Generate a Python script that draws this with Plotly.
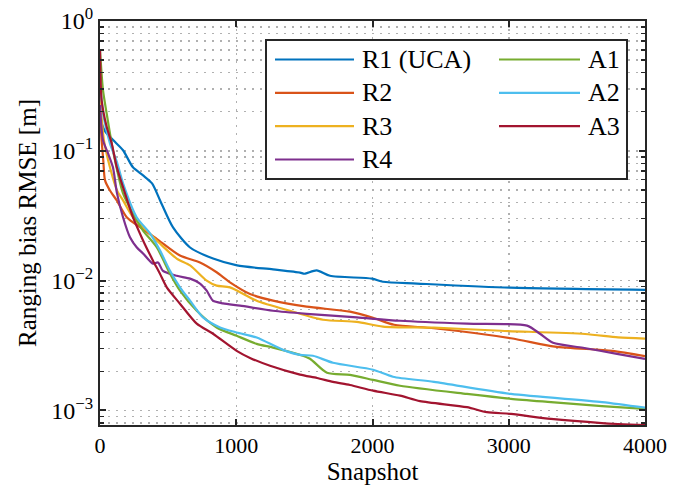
import plotly.graph_objects as go

# ---------------- data ----------------
names = ["R1 (UCA)", "R2", "R3", "R4", "A1", "A2", "A3"]
colors = ["#0072BD", "#D95319", "#EDB120", "#7E2F8E", "#77AC30", "#4DBEEE", "#A2142F"]

r1_x = [0, 15, 40, 98, 169, 242, 316, 382, 441, 536, 661, 830, 1006, 1270, 1468, 1500, 1590, 1688, 1996, 2077, 2327, 3009, 4000]
r1_y = [0.2, 0.16, 0.14, 0.1205, 0.101, 0.0746, 0.0647, 0.0561, 0.0415, 0.0257, 0.018, 0.0148, 0.0131, 0.0122, 0.01153, 0.0113, 0.0120, 0.0109, 0.01036, 0.0098, 0.0095, 0.00883, 0.0085]

r2_x = [0, 12, 24, 37, 73, 123, 196, 294, 416, 587, 734, 856, 954, 1101, 1270, 1517, 1835, 2004, 2158, 2451, 3016, 3339, 3758, 4000]
r2_y = [0.188, 0.12, 0.0845, 0.0592, 0.0495, 0.0415, 0.0308, 0.0258, 0.021, 0.0156, 0.0138, 0.0116, 0.0097, 0.00789, 0.00701, 0.0063, 0.00577, 0.00518, 0.00457, 0.0043, 0.0036, 0.0031, 0.00288, 0.00262]

r3_x = [0, 29, 73, 125, 169, 242, 343, 440, 563, 661, 783, 856, 954, 1150, 1394, 1637, 1884, 2077, 2451, 2943, 3560, 3802, 4000]
r3_y = [0.268, 0.1205, 0.0746, 0.0495, 0.0415, 0.0308, 0.0243, 0.0193, 0.0148, 0.0131, 0.0100, 0.00915, 0.00888, 0.00701, 0.00586, 0.0050, 0.00482, 0.00443, 0.00434, 0.00411, 0.00388, 0.00365, 0.00358]

r4_x = [0, 22, 59, 95, 125, 169, 220, 269, 316, 389, 426, 462, 563, 661, 734, 783, 829, 903, 1028, 1270, 1517, 1884, 2202, 2693, 3134, 3229, 3325, 3545, 3794, 4000]
r4_y = [0.225, 0.1205, 0.0957, 0.0746, 0.047, 0.0308, 0.0216, 0.0181, 0.0162, 0.0135, 0.0138, 0.0119, 0.0109, 0.01036, 0.0095, 0.00837, 0.00701, 0.00668, 0.00641, 0.00586, 0.00555, 0.00521, 0.00491, 0.00466, 0.0045, 0.0039, 0.00332, 0.00304, 0.00273, 0.0025]

a1_x = [0, 22, 51, 95, 169, 242, 316, 416, 514, 587, 710, 856, 1003, 1150, 1270, 1468, 1541, 1666, 1835, 2004, 2202, 2693, 3016, 3310, 3684, 4000]
a1_y = [0.597, 0.293, 0.188, 0.101, 0.047, 0.0329, 0.0243, 0.0181, 0.0113, 0.00837, 0.00586, 0.00436, 0.00376, 0.00326, 0.00305, 0.00268, 0.0025, 0.00195, 0.00188, 0.00172, 0.00155, 0.00134, 0.00123, 0.00116, 0.00108, 0.00103]

a2_x = [0, 29, 73, 125, 169, 269, 367, 440, 514, 587, 661, 756, 881, 1003, 1150, 1343, 1468, 1563, 1710, 2004, 2150, 2451, 3016, 3684, 4000]
a2_y = [0.32, 0.178, 0.114, 0.0815, 0.0561, 0.0308, 0.0231, 0.0171, 0.0119, 0.00888, 0.00701, 0.00521, 0.00436, 0.00399, 0.00365, 0.00293, 0.00268, 0.00264, 0.00233, 0.00206, 0.00182, 0.00166, 0.00134, 0.00116, 0.00105]

a3_x = [0, 12, 49, 86, 123, 169, 242, 316, 389, 440, 490, 587, 710, 829, 1003, 1101, 1248, 1468, 1593, 1710, 1835, 2004, 2202, 2349, 2693, 2840, 3016, 3310, 3684, 4000]
a3_y = [0.597, 0.245, 0.153, 0.114, 0.075, 0.0525, 0.0308, 0.0204, 0.01426, 0.0113, 0.00888, 0.00664, 0.00466, 0.0039, 0.00288, 0.00254, 0.00221, 0.00189, 0.00178, 0.00166, 0.00157, 0.00142, 0.0013, 0.00118, 0.00106, 0.00097, 0.00094, 0.00086, 0.0008, 0.00077]

xs = [r1_x, r2_x, r3_x, r4_x, a1_x, a2_x, a3_x]
ys = [r1_y, r2_y, r3_y, r4_y, a1_y, a2_y, a3_y]

x_ticks = [0, 1000, 2000, 3000, 4000]
y_tickvals = [1e-3, 1e-2, 1e-1, 1e0]
y_ticktext = ["10<sup>\u22123</sup>", "10<sup>\u22122</sup>", "10<sup>\u22121</sup>", "10<sup>0</sup>"]
y_minor = [m * 10.0 ** e for e in (-4, -3, -2, -1) for m in range(2, 10)]

FONT = "Liberation Serif"
AXC = "#262626"
GRIDC = "#b0b0b0"

fig = go.Figure()
for x, y, n, c in zip(xs, ys, names, colors):
    fig.add_trace(go.Scatter(x=x, y=y, mode="lines", name=n,
                             line=dict(color=c, width=2.2, shape="spline", smoothing=0.7),
                             showlegend=False, hoverinfo="skip"))

# plot box at x 100..645, y 21..425 of the 685x489 page (body margin removed below)
fig.update_layout(
    width=685, height=489,
    margin=dict(l=100, r=40, t=21, b=64, autoexpand=False),
    paper_bgcolor="white", plot_bgcolor="white",
    font=dict(family=FONT, color="black", size=22),
)
fig.update_xaxes(
    range=[0, 4000], tickvals=x_ticks, ticks="inside", ticklen=6, tickwidth=2, tickcolor=AXC,
    showline=True, linecolor=AXC, linewidth=2, mirror="ticks", automargin=False,
    showgrid=True, gridcolor=GRIDC, gridwidth=1.5, griddash="2px,6px",
    zeroline=False, tickfont=dict(size=22, family=FONT), ticklabeloverflow="allow",
    title=dict(text="Snapshot", font=dict(size=25, family=FONT), standoff=2),
)
fig.update_yaxes(
    type="log", range=[-3.112, 0], tickvals=y_tickvals, ticktext=y_ticktext,
    ticks="inside", ticklen=6, tickwidth=2, tickcolor=AXC,
    showline=True, linecolor=AXC, linewidth=2, mirror="ticks", automargin=False,
    showgrid=True, gridcolor=GRIDC, gridwidth=1.5, griddash="2px,6px",
    zeroline=False, tickfont=dict(size=24, family=FONT), ticklabeloverflow="allow",
    minor=dict(tickvals=y_minor, ticks="inside", ticklen=4, tickwidth=1.5, tickcolor=AXC,
               showgrid=True, gridcolor=GRIDC, gridwidth=1.5, griddash="2px,6px"),
    title=dict(text="Ranging bias RMSE [m]", font=dict(size=25, family=FONT), standoff=8),
)

# ---------------- legend (two columns, drawn in paper space) ----------------
def px_x(p):
    return (p - 100) / 545.0

def px_y(p):
    return (425 - p) / 404.0

shapes = [dict(type="rect", xref="paper", yref="paper",
               x0=px_x(266), x1=px_x(627), y0=px_y(179), y1=px_y(40),
               line=dict(color=AXC, width=2), fillcolor="white", layer="above")]
annotations = []
row_y = [59.5, 92.8, 126.2, 159.5]
cols = [(275, 354, 360), (499, 580, 586)]
for i, (n, c) in enumerate(zip(names, colors)):
    col = 0 if i < 4 else 1
    row = i if i < 4 else i - 4
    lx0, lx1, tx = cols[col]
    yy = px_y(row_y[row])
    shapes.append(dict(type="line", xref="paper", yref="paper",
                       x0=px_x(lx0), x1=px_x(lx1), y0=yy, y1=yy,
                       line=dict(color=c, width=2.2), layer="above"))
    annotations.append(dict(xref="paper", yref="paper", x=px_x(tx), y=yy,
                            text=n, showarrow=False, xanchor="left", yanchor="middle",
                            font=dict(family=FONT, size=26, color="black")))
fig.update_layout(shapes=shapes, annotations=annotations)

fig.write_html("out.html",
               config={"displayModeBar": False, "staticPlot": True},
               post_script="document.body.style.margin='0';document.body.style.overflow='hidden';")
